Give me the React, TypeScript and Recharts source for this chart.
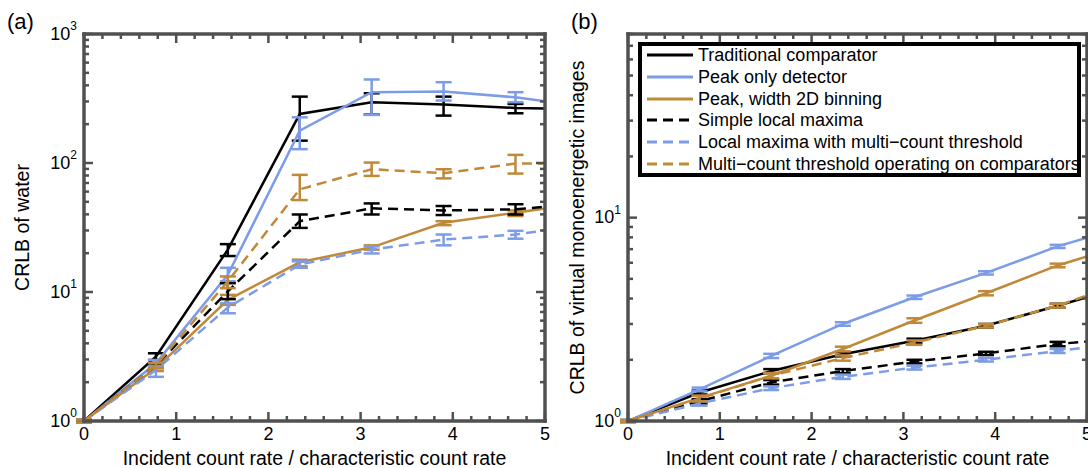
import React from 'react';
import { LineChart, Line, XAxis, YAxis, ErrorBar, Legend } from 'recharts';

// x positions of the measured rates (last entry is where the curves leave the frame)
const xRates = [0, 0.78, 1.56, 2.34, 3.12, 3.9, 4.68, 5];

const seriesNames = [
  'Traditional comparator',
  'Peak only detector',
  'Peak, width 2D binning',
  'Simple local maxima',
  'Local maxima with multi\u2212count threshold',
  'Multi\u2212count threshold operating on comparators',
];
const seriesColors = ['#000000', '#7c9ce8', '#c0893a', '#000000', '#7c9ce8', '#c0893a'];
const seriesDashed = [false, false, false, true, true, true];

const xTitle = 'Incident count rate / characteristic count rate';

// (a) CRLB of water
const waterTraditional = [1, 3.15, 21.3, 240, 296, 284, 267, 265];
const waterTraditionalErr = [[0.03, 0.03], [0.18, 0.2], [2.3, 2.2], [91, 87], [59, 51], [51, 43], [24, 20], null];
const waterPeak = [1, 2.8, 13.6, 178, 354, 358, 323, 301];
const waterPeakErr = [[0.03, 0.03], [0.24, 0.17], [1.5, 1.8], [50, 48], [118, 90], [53, 65], [27, 31], null];
const waterPeak2d = [1, 2.56, 8.7, 17.0, 22.2, 34.4, 41.1, 44.5];
const waterPeak2dErr = [[0.03, 0.03], [0.12, 0.12], [0.75, 0.8], [1.2, 0.8], [0.9, 0.8], [1.4, 1.0], [2.3, 1.8], null];
const waterSimple = [1, 2.7, 10.1, 35.4, 44.5, 42.9, 43.7, 45.8];
const waterSimpleErr = [[0.03, 0.03], [0.1, 0.1], [1.3, 1.6], [4.0, 4.5], [4.6, 4.1], [3.4, 3.5], [3.8, 4.2], null];
const waterLocalMc = [1, 2.48, 7.59, 16.3, 21.3, 25.5, 27.9, 30.0];
const waterLocalMcErr = [[0.03, 0.03], [0.28, 0.15], [0.75, 0.61], [0.9, 1.0], [1.4, 1.3], [2.5, 2.4], [2.0, 1.9], null];
const waterMcComp = [1, 2.7, 12.1, 62.5, 89.5, 83.3, 99, 99];
const waterMcCompErr = [[0.03, 0.03], [0.12, 0.12], [1.4, 1.1], [10.9, 18.4], [10.1, 11.3], [7.3, 6.2], [16.2, 16.6], null];

// (b) CRLB of virtual monoenergetic images
const vmiTraditional = [1, 1.38, 1.76, 2.13, 2.48, 2.94, 3.69, 4.06];
const vmiTraditionalErr = [[0.01, 0.01], [0.03, 0.03], [0.04, 0.04], [0.05, 0.05], [0.06, 0.06], [0.06, 0.06], [0.08, 0.08], null];
const vmiPeak = [1, 1.43, 2.09, 3.0, 4.06, 5.35, 7.22, 7.97];
const vmiPeakErr = [[0.01, 0.01], [0.03, 0.03], [0.05, 0.05], [0.06, 0.06], [0.08, 0.08], [0.1, 0.1], [0.13, 0.13], null];
const vmiPeak2d = [1, 1.3, 1.67, 2.26, 3.12, 4.25, 5.82, 6.45];
const vmiPeak2dErr = [[0.01, 0.01], [0.03, 0.03], [0.05, 0.05], [0.06, 0.06], [0.08, 0.08], [0.1, 0.1], [0.12, 0.12], null];
const vmiSimple = [1, 1.25, 1.55, 1.76, 1.96, 2.15, 2.39, 2.46];
const vmiSimpleErr = [[0.01, 0.01], [0.03, 0.03], [0.04, 0.04], [0.04, 0.04], [0.04, 0.04], [0.04, 0.04], [0.06, 0.06], null];
const vmiLocalMc = [1, 1.22, 1.45, 1.65, 1.83, 2.0, 2.21, 2.3];
const vmiLocalMcErr = [[0.01, 0.01], [0.03, 0.03], [0.03, 0.03], [0.04, 0.04], [0.04, 0.04], [0.04, 0.04], [0.05, 0.05], null];
const vmiMcComp = [1, 1.29, 1.67, 2.04, 2.43, 2.94, 3.69, 4.14];
const vmiMcCompErr = [[0.01, 0.01], [0.04, 0.04], [0.05, 0.05], [0.06, 0.06], [0.06, 0.06], [0.06, 0.06], [0.08, 0.08], null];

const FONT = '"Liberation Sans", Arial, Helvetica, sans-serif';
const FRAME = '#505050';

const buildRows = (values: number[][], errs: (number[] | null)[][]) =>
  xRates.map((x, i) => {
    const row: Record<string, any> = { x };
    values.forEach((v, s) => {
      row[`s${s}`] = v[i];
      row[`e${s}`] = errs[s][i];
    });
    return row;
  });

const waterRows = buildRows(
  [waterTraditional, waterPeak, waterPeak2d, waterSimple, waterLocalMc, waterMcComp],
  [waterTraditionalErr, waterPeakErr, waterPeak2dErr, waterSimpleErr, waterLocalMcErr, waterMcCompErr]
);
const vmiRows = buildRows(
  [vmiTraditional, vmiPeak, vmiPeak2d, vmiSimple, vmiLocalMc, vmiMcComp],
  [vmiTraditionalErr, vmiPeakErr, vmiPeak2dErr, vmiSimpleErr, vmiLocalMcErr, vmiMcCompErr]
);

const xTicks = Array.from({ length: 26 }, (_, i) => (i * 2) / 10);

const logTicks = (max: number) => {
  const t: number[] = [];
  for (let d = 1; d < max; d *= 10) {
    for (let k = 1; k < 10; k++) if (k * d <= max) t.push(k * d);
  }
  if (Number.isInteger(Math.log10(max))) t.push(max);
  return t;
};

const isPow10 = (v: number) => Math.abs(Math.log10(v) - Math.round(Math.log10(v))) < 1e-9;

const XTick = ({ x, y, payload, side }: any) => {
  const v = payload.value;
  const major = Math.abs(v - Math.round(v)) < 1e-6;
  const len = major ? 9 : 5;
  const dir = side === 'bottom' ? -1 : 1;
  return (
    <g>
      <line x1={x} y1={y} x2={x} y2={y + dir * len} stroke={FRAME} strokeWidth={2.5} />
      {side === 'bottom' && major && (
        <text x={x} y={y + 19} textAnchor="middle" fontSize={18} fill="#000">
          {Math.round(v)}
        </text>
      )}
    </g>
  );
};

const YTick = ({ x, y, payload, side }: any) => {
  const v = payload.value;
  const major = isPow10(v);
  const len = major ? 9 : 5;
  const dir = side === 'left' ? 1 : -1;
  return (
    <g>
      <line x1={x} y1={y} x2={x + dir * len} y2={y} stroke={FRAME} strokeWidth={2.5} />
      {side === 'left' && major && (
        <text x={x - 7} y={y + 5.5} textAnchor="end" fontSize={18} fill="#000">
          10
          <tspan dy={-9.5} fontSize={12}>
            {Math.round(Math.log10(v))}
          </tspan>
        </text>
      )}
    </g>
  );
};

const LegendBox = () => (
  <div
    style={{
      position: 'relative',
      width: 443,
      height: 135,
      boxSizing: 'border-box',
      border: '4px solid #000',
      background: '#fff',
      fontFamily: FONT,
    }}
  >
    {seriesNames.map((n, i) => (
      <div
        key={n}
        style={{
          position: 'absolute',
          left: 5,
          top: 9 + i * 21.8 - 11,
          height: 22,
          display: 'flex',
          alignItems: 'center',
          whiteSpace: 'nowrap',
        }}
      >
        <svg width={46} height={6}>
          <line
            x1={0}
            y1={3}
            x2={46}
            y2={3}
            stroke={seriesColors[i]}
            strokeWidth={3}
            strokeDasharray={seriesDashed[i] ? '10 6' : undefined}
          />
        </svg>
        <span style={{ marginLeft: 5, fontSize: 18, color: '#000', lineHeight: '22px' }}>{n}</span>
      </div>
    ))}
  </div>
);

type PanelProps = {
  rows: Record<string, any>[];
  left: number;
  width: number;
  yMax: number;
  yAxisWidth: number;
  rightAxisWidth: number;
  yTitle: string;
  yTitleX: number;
  tag: string;
  tagX: number;
  showLegend?: boolean;
};

const axisStyle = { stroke: FRAME, strokeWidth: 3.5, strokeLinecap: 'square' as const };

const Panel = (p: PanelProps) => {
  const yTicks = logTicks(p.yMax);
  return (
    <div style={{ position: 'absolute', left: p.left, top: 0 }}>
      <LineChart width={p.width} height={468} data={p.rows} margin={{ top: 0, right: 0, bottom: 0, left: 0 }}>
        <XAxis
          dataKey="x"
          type="number"
          domain={[0, 5]}
          ticks={xTicks}
          interval={0}
          allowDataOverflow
          axisLine={axisStyle}
          tickLine={false}
          tickSize={0}
          tickMargin={0}
          height={47}
          tick={(t: any) => <XTick {...t} side="bottom" />}
          label={(lp: any) => {
            const vb = lp.viewBox;
            return (
              <text x={vb.x + vb.width / 2} y={vb.y + 44} textAnchor="middle" fontSize={19.5} fill="#000">
                {xTitle}
              </text>
            );
          }}
        />
        <XAxis
          xAxisId="top"
          dataKey="x"
          orientation="top"
          type="number"
          domain={[0, 5]}
          ticks={xTicks}
          interval={0}
          allowDataOverflow
          axisLine={axisStyle}
          tickLine={false}
          tickSize={0}
          tickMargin={0}
          height={34}
          tick={(t: any) => <XTick {...t} side="top" />}
          label={() => (
            <text x={p.tagX} y={28.5} fontSize={22} fill="#000">
              {p.tag}
            </text>
          )}
        />
        <YAxis
          scale="log"
          type="number"
          domain={[1, p.yMax]}
          ticks={yTicks}
          interval={0}
          allowDataOverflow
          axisLine={axisStyle}
          tickLine={false}
          tickSize={0}
          tickMargin={0}
          width={p.yAxisWidth}
          tick={(t: any) => <YTick {...t} side="left" />}
          label={(lp: any) => {
            const vb = lp.viewBox;
            return (
              <text
                transform={`translate(${p.yTitleX},${vb.y + vb.height / 2}) rotate(-90)`}
                textAnchor="middle"
                fontSize={19.5}
                fill="#000"
              >
                {p.yTitle}
              </text>
            );
          }}
        />
        <YAxis
          yAxisId="right"
          orientation="right"
          scale="log"
          type="number"
          domain={[1, p.yMax]}
          ticks={yTicks}
          interval={0}
          allowDataOverflow
          axisLine={axisStyle}
          tickLine={false}
          tickSize={0}
          tickMargin={0}
          width={p.rightAxisWidth}
          tick={(t: any) => <YTick {...t} side="right" />}
        />
        {seriesNames.map((n, s) => (
          <Line
            key={n}
            name={n}
            dataKey={`s${s}`}
            type="linear"
            stroke={seriesColors[s]}
            strokeWidth={2.5}
            strokeDasharray={seriesDashed[s] ? '10 6' : undefined}
            dot={false}
            activeDot={false}
            isAnimationActive={false}
          >
            <ErrorBar
              dataKey={`e${s}`}
              direction="y"
              width={8}
              stroke={seriesColors[s]}
              strokeWidth={2.5}
              isAnimationActive={false}
            />
          </Line>
        ))}
        {p.showLegend && (
          <Legend
            layout="vertical"
            align="center"
            verticalAlign="middle"
            wrapperStyle={{ left: 78, top: 42, width: 443, height: 135 }}
            content={() => <LegendBox />}
          />
        )}
      </LineChart>
    </div>
  );
};

export default function App() {
  return (
    <div
      style={{
        position: 'absolute',
        left: 0,
        top: 0,
        width: 1088,
        height: 468,
        background: '#fff',
        fontFamily: FONT,
        overflow: 'hidden',
      }}
    >
      <Panel
        rows={waterRows}
        left={0}
        width={560}
        yMax={1000}
        yAxisWidth={84}
        rightAxisWidth={15}
        yTitle="CRLB of water"
        yTitleX={28.5}
        tag="(a)"
        tagX={7}
      />
      <Panel
        rows={vmiRows}
        left={560}
        width={528}
        yMax={80}
        yAxisWidth={68}
        rightAxisWidth={1}
        yTitle="CRLB of virtual monoenergetic images"
        yTitleX={24}
        tag="(b)"
        tagX={11}
        showLegend
      />
    </div>
  );
}
